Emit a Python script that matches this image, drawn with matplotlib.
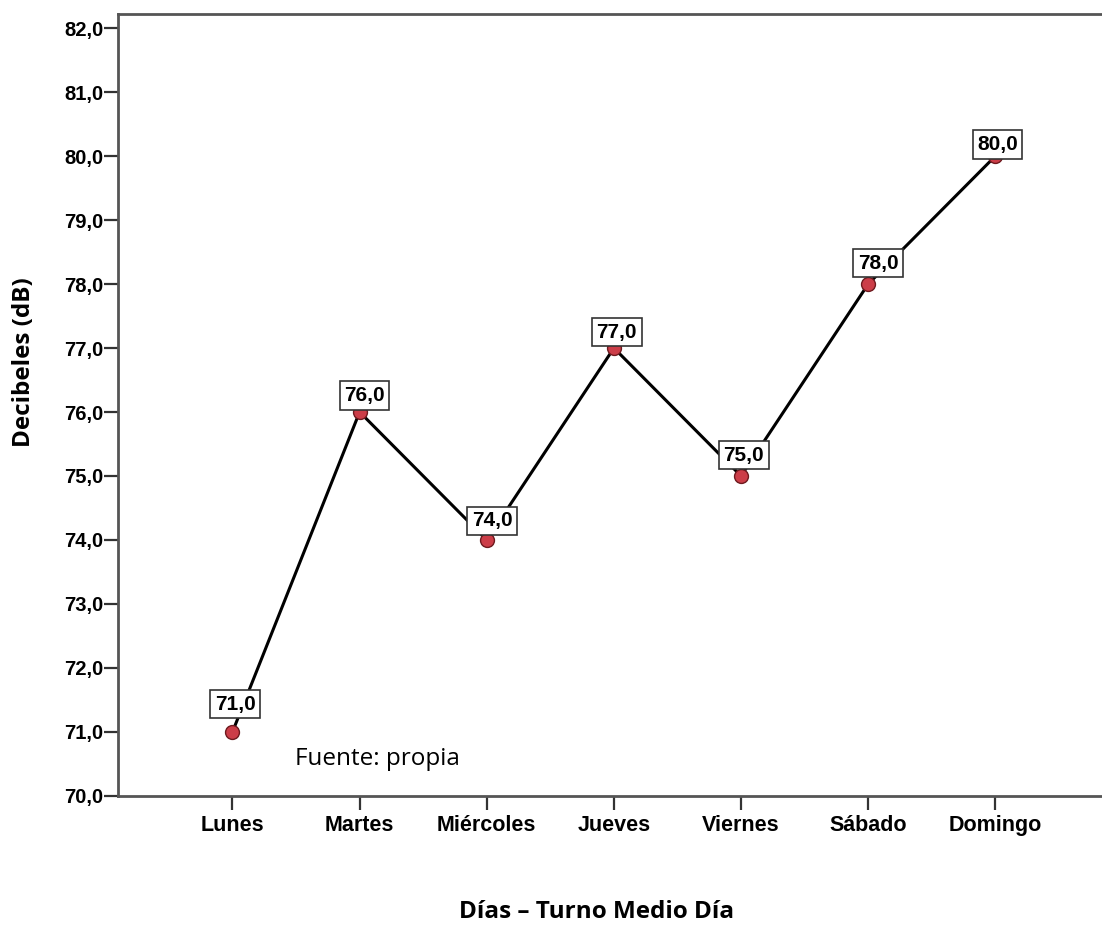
import matplotlib
matplotlib.use("Agg")
import matplotlib.pyplot as plt

dias = ["Lunes", "Martes", "Miércoles", "Jueves", "Viernes", "Sábado", "Domingo"]
decibeles = [71.0, 76.0, 74.0, 77.0, 75.0, 78.0, 80.0]
y_ticks = [70.0, 71.0, 72.0, 73.0, 74.0, 75.0, 76.0, 77.0, 78.0, 79.0, 80.0, 81.0, 82.0]

# label placement (offset of each value box from its point, in points)
label_dx = [2, 3.5, 4, 2, 2, 7, 1.5]
label_dy = [13, 5, 7, 4.5, 8, 8, 1.5]

tick_font = "Liberation Sans"
title_font = "Open Sans"

fig = plt.figure(figsize=(11.02, 9.25), dpi=100)
ax = fig.add_axes([0.1071, 0.1395, 0.9, 0.8454])

x = list(range(len(dias)))
ax.plot(x, decibeles, color="black", lw=2.2, zorder=2)
ax.plot(x, decibeles, "o", ms=10, mfc="#cc3d48", mec="#6e1a1f", mew=1.0, zorder=3)

def fmt(v):
    return f"{v:.1f}".replace(".", ",")

for xi, v, dx, dy in zip(x, decibeles, label_dx, label_dy):
    ax.annotate(fmt(v), (xi, v), xytext=(dx, dy), textcoords="offset points",
                ha="center", va="bottom", fontsize=15, fontweight="bold",
                family=tick_font, zorder=4,
                bbox=dict(boxstyle="square,pad=0.22", fc="white", ec="#333333", lw=1.2))

ax.set_xlim(-0.9, 6.9)
ax.set_ylim(70.0, 82.22)
ax.set_xticks(x)
ax.set_xticklabels(dias)
ax.set_yticks(y_ticks)
ax.set_yticklabels([fmt(t) for t in y_ticks])

for lab in ax.get_yticklabels():
    lab.set_family(tick_font)
    lab.set_fontweight("bold")
    lab.set_fontsize(14.5)
for lab in ax.get_xticklabels():
    lab.set_family(tick_font)
    lab.set_fontweight("bold")
    lab.set_fontsize(15.5)

ax.tick_params(axis="both", direction="out", length=10, width=1.6, color="#333333")
ax.tick_params(axis="y", pad=0.5)
ax.tick_params(axis="x", pad=4)
for s in ["left", "bottom", "top", "right"]:
    ax.spines[s].set_color("#555555")
    ax.spines[s].set_linewidth(2.0)

fig.text(0.0218, 0.6086, "Decibeles (dB)", family=title_font, fontweight="bold",
         fontsize=17.5, rotation=90, ha="center", va="center")
fig.text(0.5413, 0.0076, "Días – Turno Medio Día", family=title_font, fontweight="bold",
         fontsize=17.5, ha="center", va="baseline")
fig.text(0.2677, 0.173, "Fuente: propia", family=title_font, fontsize=17.5,
         ha="left", va="baseline")

fig.savefig("out.png", dpi=100)
